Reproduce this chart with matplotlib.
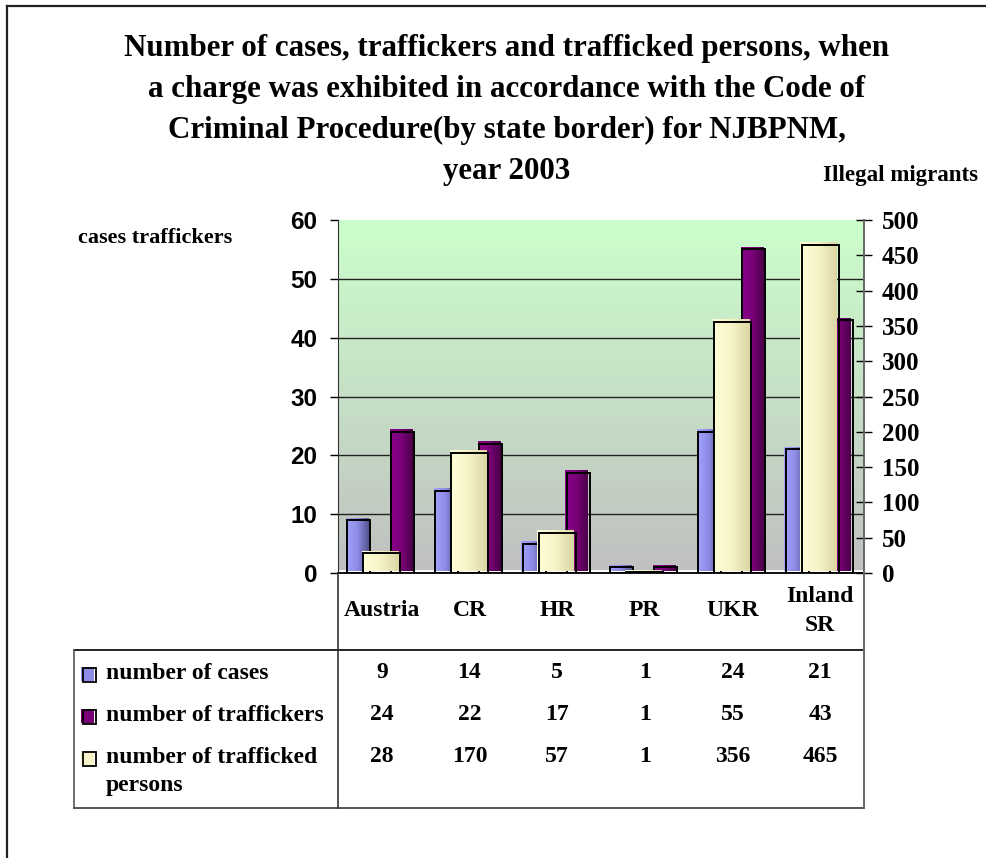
import numpy as np
import matplotlib
matplotlib.use("Agg")
import matplotlib.pyplot as plt
from matplotlib import transforms
from matplotlib.colors import LinearSegmentedColormap
from matplotlib.lines import Line2D
from matplotlib.patches import Rectangle

categories = ["Austria", "CR", "HR", "PR", "UKR", "Inland\nSR"]
cases = [9, 14, 5, 1, 24, 21]
traffickers = [24, 22, 17, 1, 55, 43]
trafficked = [28, 170, 57, 1, 356, 465]
row_labels = ["number of cases", "number of traffickers", "number of trafficked\npersons"]
title_lines = ["Number of cases, traffickers and trafficked persons, when",
               "a charge was exhibited in accordance with the Code of",
               "Criminal Procedure(by state border) for NJBPNM,",
               "year 2003"]

blue = ["#a4a4ff", "#8c8ce6", "#55558f"]
purple = ["#8a008a", "#7a0078", "#4a0048"]
cream = ["#ffffd8", "#f6f3c6", "#dcd6a4"]

plt.rcParams["font.family"] = "Liberation Serif"
plt.rcParams["font.weight"] = "bold"

W, H = 987, 858
fig = plt.figure(figsize=(W / 100, H / 100), dpi=100)


def fx(px):
    return px / W


def fy(py):
    return 1 - py / H


ax = fig.add_axes([fx(338), fy(573), (864 - 338) / W, (573 - 220) / H])
ax2 = ax.twinx()
x = np.arange(len(categories))

# plot area background: grey at the floor fading to pale green at the top
bg = LinearSegmentedColormap.from_list("bg", ["#c0c0c0", "#ccffcc"])
ax.imshow(np.linspace(0, 1, 256)[:, None], cmap=bg, origin="lower",
          extent=(0, 1, 0, 1), transform=ax.transAxes, aspect="auto",
          zorder=0.1, interpolation="bicubic")

# thin white floor edge just above the category axis
lift = transforms.ScaledTranslation(0, 0.02, fig.dpi_scale_trans)
ax.add_line(Line2D([0, 1], [0, 0], color="white", linewidth=2, zorder=0.6,
                   transform=ax.get_yaxis_transform() + lift))

# fill sits a pixel up-left of its black outline, like the old office charts
shift = transforms.ScaledTranslation(-0.015, 0.015, fig.dpi_scale_trans)


def gradient_bars(axis, xpos, heights, width, colors, z):
    cmap = LinearSegmentedColormap.from_list("bar", colors)
    for xi, hi in zip(xpos, heights):
        x0 = xi - width / 2
        axis.imshow(np.linspace(0, 1, 64)[None, :], cmap=cmap,
                    extent=(x0, x0 + width, 0, hi), aspect="auto",
                    transform=axis.transData + shift, zorder=z,
                    interpolation="bilinear")
    axis.bar(xpos, heights, width, facecolor="none", edgecolor="black",
             linewidth=1.4, zorder=z + 0.01)


gradient_bars(ax, x - 0.262, cases, 0.262, blue, 2)
gradient_bars(ax, x + 0.24, traffickers, 0.262, purple, 2)
gradient_bars(ax2, x, trafficked, 0.42, cream, 2)

ax.set_xlim(-0.5, len(categories) - 0.5)
ax.set_ylim(0, 60)
ax2.set_ylim(0, 500)
ax.set_yticks(range(0, 61, 10))
ax2.set_yticks(range(0, 501, 50))
ax.set_xticks([])

ax.set_axisbelow(True)
ax.yaxis.grid(True, color="#222222", linewidth=1)
ax.get_ygridlines()[-1].set_visible(False)

for a in (ax, ax2):
    a.spines["top"].set_visible(False)
ax2.spines["bottom"].set_visible(False)
ax2.spines["left"].set_visible(False)
ax.spines["right"].set_visible(False)
ax.spines["left"].set_color("#333333")
ax.spines["bottom"].set_linewidth(1.3)
ax2.spines["right"].set_color("#666666")
ax2.spines["right"].set_linewidth(1.4)

ax.tick_params(axis="y", direction="out", length=5.8, width=1, pad=9)
ax2.tick_params(axis="y", direction="inout", length=11.5, width=1, pad=7)
for t in ax.get_yticklabels():
    t.set_fontfamily("Liberation Sans")
    t.set_fontweight("bold")
    t.set_fontsize(17.5)
for t in ax2.get_yticklabels():
    t.set_fontweight("bold")
    t.set_fontsize(18)

# title, one line per text so each baseline is placed on its own
for line, base in zip(title_lines, [56, 97, 138, 179]):
    fig.text(fx(507), fy(base), line, ha="center", va="baseline",
             fontsize=22.3, fontweight="bold")
fig.text(fx(232), fy(238), "cases traffickers", ha="right", va="center",
         fontsize=16, fontweight="bold")
fig.text(fx(823), fy(175), "Illegal migrants", ha="left", va="center",
         fontsize=16.5, fontweight="bold")

# data table under the plot
col = transforms.blended_transform_factory(ax.transData, fig.transFigure)
for xi, name in zip(x, categories):
    ax.text(xi, fy(611), name, transform=col, ha="center", va="center",
            fontsize=17, fontweight="bold", linespacing=1.44, clip_on=False)

rows_y = [673, 715, 757]
for vals, ry in zip([cases, traffickers, trafficked], rows_y):
    for xi, v in zip(x, vals):
        ax.text(xi, fy(ry), str(v), transform=col, ha="center", va="center",
                fontsize=17, fontweight="bold", clip_on=False)

key_shift = transforms.ScaledTranslation(-0.015, 0.015, fig.dpi_scale_trans)
for label, ry, colors in zip(row_labels, rows_y, [blue, purple, cream]):
    fig.text(fx(106), fy(ry - 10), label, ha="left", va="top",
             fontsize=17, fontweight="bold", linespacing=1.45)
    fig.patches.append(Rectangle((fx(83), fy(ry + 9)), 13 / W, 14 / H,
                                 transform=fig.transFigure + key_shift,
                                 facecolor=colors[1], edgecolor="none"))
    fig.patches.append(Rectangle((fx(83), fy(ry + 9)), 13 / W, 14 / H,
                                 transform=fig.transFigure, facecolor="none",
                                 edgecolor="black", linewidth=1.3))

# table frame
t_left, t_right, t_head, t_bottom = 74, 864, 650, 808
fig.add_artist(Line2D([fx(t_left), fx(t_right)], [fy(t_head), fy(t_head)],
                      color="black", linewidth=1.2))
fig.add_artist(Line2D([fx(t_left), fx(t_right)], [fy(t_bottom), fy(t_bottom)],
                      color="#555555", linewidth=1.4))
fig.add_artist(Line2D([fx(t_left), fx(t_left)], [fy(t_head), fy(t_bottom)],
                      color="#555555", linewidth=1.2))
fig.add_artist(Line2D([fx(338), fx(338)], [fy(573), fy(t_bottom)],
                      color="#333333", linewidth=1.2))
fig.add_artist(Line2D([fx(864), fx(864)], [fy(573), fy(t_bottom)],
                      color="#666666", linewidth=1.4))

# chart area border
fig.add_artist(Line2D([fx(7), fx(7)], [fy(6), 0], color="#222222", linewidth=1.6))
fig.add_artist(Line2D([fx(7), 1], [fy(6), fy(6)], color="#222222", linewidth=1.6))

fig.savefig("out.png", dpi=100)
